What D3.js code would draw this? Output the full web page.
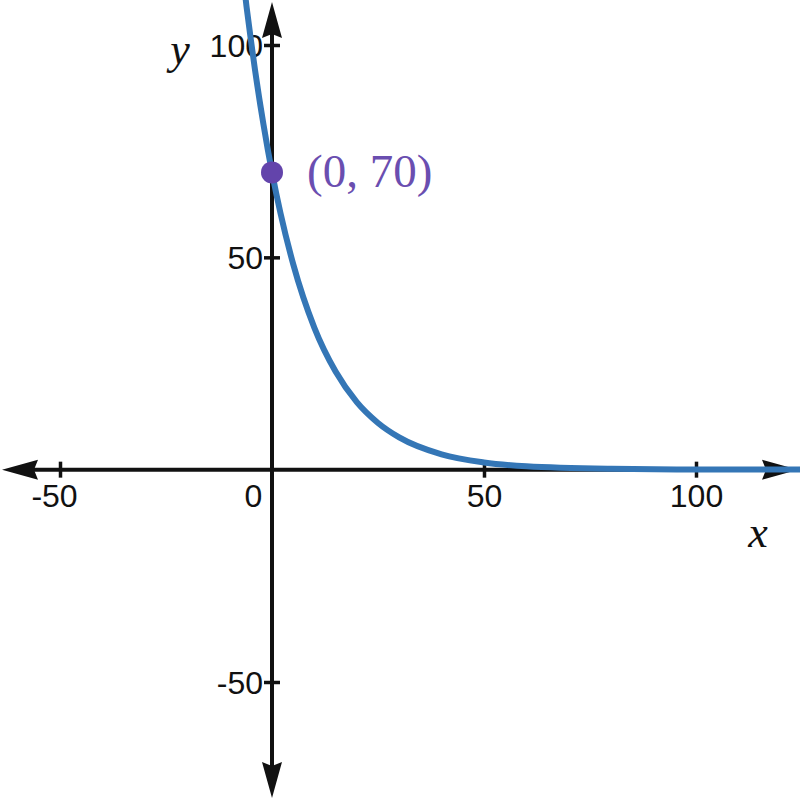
<!DOCTYPE html>
<html>
<head>
<meta charset="utf-8">
<script src="https://cdn.jsdelivr.net/npm/d3@7"></script>
<style>
  html, body { margin: 0; padding: 0; background: #fff; }
  svg { display: block; }
</style>
</head>
<body>
<script>
// values
var curveX = [-7, -6, -5, -4, -2, 0, 2, 5, 10, 15, 20, 25, 30, 40, 50, 60, 80, 100, 125];
var curveY = [117.5, 109, 101.3, 94.1, 81.2, 70, 60.4, 48.4, 33.4, 23.1, 15.9, 11.0, 7.6, 3.6, 1.7, 0.8, 0.2, 0.04, 0.01];
var xTicks = [-50, 0, 50, 100];
var yTicks = [-50, 50, 100];
var point = { x: 0, y: 70, label: "(0, 70)" };

var W = 800, H = 800;
var svg = d3.select("body").append("svg").attr("width", W).attr("height", H);

var x = d3.scaleLinear().domain([-50, 100]).range([60, 696]);
var y = d3.scaleLinear().domain([-50, 100]).range([682, 45]);

var x0 = x(0), y0 = y(0);
var axisColor = "#111";
var fmt = function (d) { return String(d); }; // plain hyphen, like the picture

// x axis
var xAxis = svg.append("g")
    .attr("transform", "translate(0," + y0 + ")")
    .call(d3.axisBottom(x).tickValues(xTicks).tickSize(8).tickPadding(8).tickFormat(fmt));
xAxis.select(".domain").remove();
xAxis.selectAll(".tick line")
    .attr("y1", -8).attr("y2", 8)
    .attr("stroke", axisColor).attr("stroke-width", 3.5)
    .filter(function (d) { return d === 0; }).remove();
xAxis.selectAll(".tick text")
    .attr("fill", "#111")
    .attr("font-family", "Liberation Sans, Arial, sans-serif")
    .attr("font-size", 32)
    .attr("dy", "0.72em")
    .attr("y", 14)
    .attr("x", function (d) { return d === 0 ? -19 : (d < 0 ? -6 : 0); });

// y axis
var yAxis = svg.append("g")
    .attr("transform", "translate(" + x0 + ",0)")
    .call(d3.axisLeft(y).tickValues(yTicks).tickSize(8).tickPadding(4).tickFormat(fmt));
yAxis.select(".domain").remove();
yAxis.selectAll(".tick line")
    .attr("x1", -8).attr("x2", 8)
    .attr("stroke", axisColor).attr("stroke-width", 3.5);
yAxis.selectAll(".tick text")
    .attr("fill", "#111")
    .attr("font-family", "Liberation Sans, Arial, sans-serif")
    .attr("font-size", 32)
    .attr("x", -9)
    .attr("dy", "0.36em");

// axis lines with arrow heads
svg.append("line").attr("x1", 20).attr("x2", 780).attr("y1", y0).attr("y2", y0)
    .attr("stroke", axisColor).attr("stroke-width", 4);
svg.append("line").attr("x1", x0).attr("x2", x0).attr("y1", 20).attr("y2", 780)
    .attr("stroke", axisColor).attr("stroke-width", 4);

function arrow(tx, ty, dx, dy) {
    // tip at (tx,ty), pointing along (dx,dy)
    var len = 36, half = 10, back = 4;
    var bx = tx - dx * len, by = ty - dy * len;
    var px = -dy, py = dx;
    var mx = tx - dx * (len - back), my = ty - dy * (len - back);
    return "M" + tx + "," + ty +
        "L" + (bx + px * half) + "," + (by + py * half) +
        "L" + mx + "," + my +
        "L" + (bx - px * half) + "," + (by - py * half) + "Z";
}
[[2, y0, -1, 0], [798, y0, 1, 0], [x0, 2, 0, -1], [x0, 798, 0, 1]].forEach(function (a) {
    svg.append("path").attr("d", arrow(a[0], a[1], a[2], a[3])).attr("fill", axisColor);
});

// axis names
svg.append("text").attr("x", 180).attr("y", 64).attr("text-anchor", "middle")
    .attr("font-family", "Liberation Serif, Times New Roman, serif").attr("font-style", "italic")
    .attr("font-size", 44).attr("fill", "#111").text("y");
svg.append("text").attr("x", 758).attr("y", 547).attr("text-anchor", "middle")
    .attr("font-family", "Liberation Serif, Times New Roman, serif").attr("font-style", "italic")
    .attr("font-size", 44).attr("fill", "#111").text("x");

// curve
var pts = curveX.map(function (d, i) { return [d, curveY[i]]; });
var line = d3.line()
    .x(function (d) { return x(d[0]); })
    .y(function (d) { return y(d[1]); })
    .curve(d3.curveMonotoneX);
svg.append("path").datum(pts)
    .attr("d", line)
    .attr("fill", "none")
    .attr("stroke", "#3476b6")
    .attr("stroke-width", 6)
    .attr("stroke-linecap", "round");

// labelled point
svg.append("circle").attr("cx", x(point.x)).attr("cy", y(point.y)).attr("r", 11).attr("fill", "#6344ab");
svg.append("text").attr("x", x(point.x) + 35).attr("y", y(point.y) + 15)
    .attr("font-family", "Liberation Serif, Times New Roman, serif")
    .attr("font-size", 47).attr("fill", "#6a4eb0").text(point.label);
</script>
</body>
</html>
